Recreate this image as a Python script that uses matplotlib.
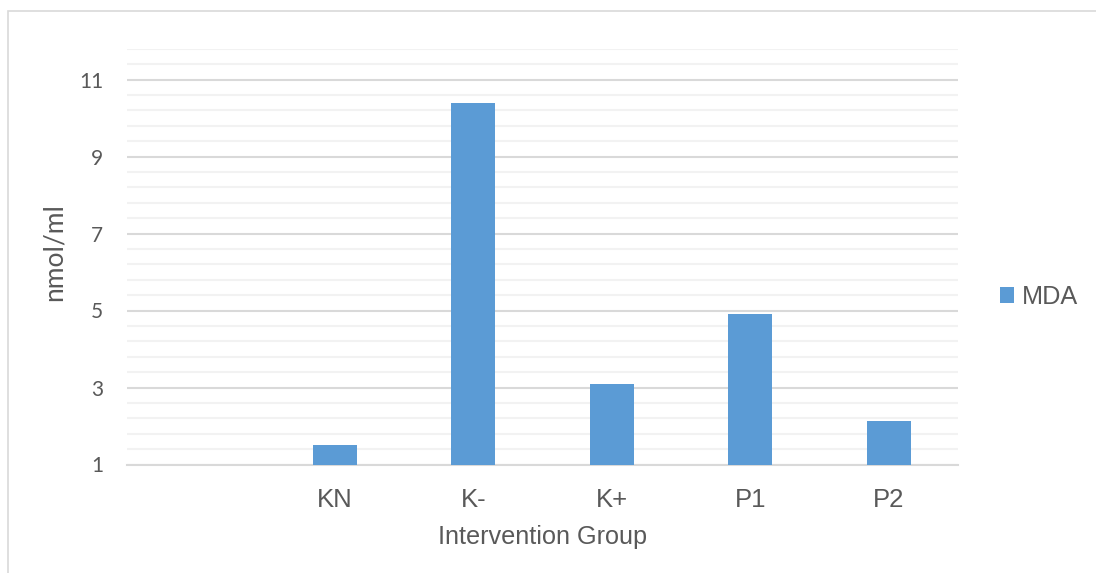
import numpy as np
import matplotlib
matplotlib.use("Agg")
import matplotlib.pyplot as plt
from matplotlib.ticker import FixedLocator

# MDA levels per intervention group (first slot intentionally blank)
categories = ["", "KN", "K-", "K+", "P1", "P2"]
mda_values = [np.nan, 1.51, 10.39, 3.08, 4.90, 2.12]
y_major_ticks = [1, 3, 5, 7, 9, 11]

BAR_COLOR = "#5B9BD5"
TEXT_COLOR = "#595959"
MAJOR_GRID = "#D9D9D9"
MINOR_GRID = "#F2F2F2"

fig = plt.figure(figsize=(10.96, 5.73), dpi=100)
fig.patch.set_facecolor("white")

# light chart-area border
border = plt.Rectangle((8 / 1096, -0.05), 1.2, (573 - 11) / 573 + 0.05,
                       transform=fig.transFigure, fill=False,
                       edgecolor="#D9D9D9", linewidth=1.2)
fig.add_artist(border)

ax = fig.add_axes([127 / 1096, (573 - 464.5) / 573, 831 / 1096, 415.8 / 573])

x = np.arange(len(categories))
ax.bar(x, mda_values, width=0.318, color=BAR_COLOR, label="MDA", zorder=3)

ax.set_xlim(-0.5, len(categories) - 0.5)
ax.set_ylim(1, 11.8)

ax.yaxis.set_major_locator(FixedLocator(y_major_ticks))
ax.yaxis.set_minor_locator(FixedLocator(np.arange(1.4, 11.81, 0.4)))
ax.grid(axis="y", which="major", color=MAJOR_GRID, linewidth=1.5, zorder=0)
ax.grid(axis="y", which="minor", color=MINOR_GRID, linewidth=1.5, zorder=0)

ax.set_xticks(x)
ax.set_xticklabels(categories, fontsize=18.5, color=TEXT_COLOR,
                   family=["Liberation Sans", "DejaVu Sans"])
ax.set_yticklabels([str(v) for v in y_major_ticks], fontsize=15,
                   color=TEXT_COLOR, family=["Lato", "DejaVu Sans"])
ax.tick_params(axis="both", which="both", length=0)
ax.tick_params(axis="y", pad=17)
ax.tick_params(axis="x", pad=17)

for side in ["top", "right", "left"]:
    ax.spines[side].set_visible(False)
ax.spines["bottom"].set_color(MAJOR_GRID)
ax.spines["bottom"].set_linewidth(1.5)

ax.set_xlabel("Intervention Group", fontsize=18.2, color=TEXT_COLOR,
              family=["Liberation Sans", "DejaVu Sans"], labelpad=9)
ax.set_ylabel("nmol/ml", fontsize=19, color=TEXT_COLOR,
              family=["Lato", "DejaVu Sans"])
ax.yaxis.set_label_coords(-0.0878, 0.511)
ax.yaxis.label.set_verticalalignment("center")

leg = fig.legend(loc="center left", bbox_to_anchor=(1000 / 1096, 1 - 297 / 573),
                 frameon=False, borderaxespad=0, borderpad=0,
                 handlelength=0.55, handleheight=0.55, handletextpad=0.3,
                 prop={"family": ["Liberation Sans", "DejaVu Sans"], "size": 18.2})
for t in leg.get_texts():
    t.set_color(TEXT_COLOR)

fig.savefig("out.png", dpi=100, facecolor="white")
